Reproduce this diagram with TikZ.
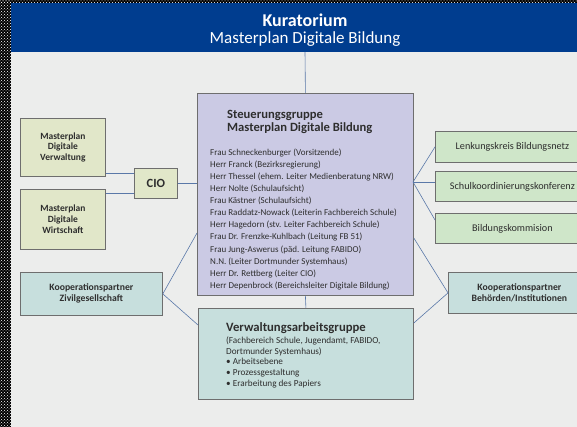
\documentclass[tikz,border=0pt]{standalone}
\usepackage{fontspec}
\setmainfont{Carlito}
\usetikzlibrary{patterns}
\definecolor{hdrblue}{HTML}{003D8F}
\definecolor{bggray}{HTML}{ECEDEC}
\definecolor{lav}{HTML}{CBCAE4}
\definecolor{ygreen}{HTML}{E1E7C9}
\definecolor{teal}{HTML}{C7DFDD}
\definecolor{lgreen}{HTML}{CFE6C9}
\definecolor{linec}{HTML}{5A78A8}
\definecolor{bordc}{HTML}{6E6E6E}
\definecolor{txt}{HTML}{2E2E2E}
\begin{document}
\begin{tikzpicture}[x=1pt,y=-1pt,
  box/.style={draw=bordc,line width=0.8pt,inner sep=0pt,anchor=north west,text=txt,align=center},
  conn/.style={draw=linec,line width=0.6pt},
  lbl/.style={inner sep=0pt,text=txt,align=left,anchor=north west}]
\useasboundingbox (0,0) rectangle (577,427);
\clip (0,0) rectangle (577,427);
% background and border strips
\fill[bggray] (0,0) rectangle (577,427);
\fill[black] (0,0) rectangle (11,427);
\fill[black] (0,0) rectangle (577,3);
\fill[pattern=crosshatch dots,pattern color=white] (0,0) rectangle (11,427);
\fill[pattern=crosshatch dots,pattern color=white] (0,0) rectangle (577,3);
% header
\fill[hdrblue] (11,3) rectangle (577,52);
\node[inner sep=0pt,text=white,font=\bfseries\fontsize{18}{20}\selectfont] (kur) at (305,20) {Kuratorium};
\node[inner sep=0pt,text=white,font=\fontsize{17}{20}\selectfont] (kur2) at (305,39.5) {Masterplan Digitale Bildung};
\coordinate (hb) at (305,52);
% Steuerungsgruppe
\node[box,fill=lav,minimum width=216pt,minimum height=202pt] (steu) at (197,93) {};
\node[lbl,font=\bfseries\fontsize{12.6}{13}\selectfont] (steut) at (227,110.5) {Steuerungsgruppe\\Masterplan Digitale Bildung};
\node[lbl,font=\fontsize{9}{12.1}\selectfont] (steul) at (210,148.5) {Frau Schneckenburger (Vorsitzende)\\
Herr Franck (Bezirksregierung)\\
Herr Thessel (ehem. Leiter Medienberatung NRW)\\
Herr Nolte (Schulaufsicht)\\
Frau Kästner (Schulaufsicht)\\
Frau Raddatz-Nowack (Leiterin Fachbereich Schule)\\
Herr Hagedorn (stv. Leiter Fachbereich Schule)\\
Frau Dr. Frenzke-Kuhlbach (Leitung FB 51)\\
Frau Jung-Aswerus (päd. Leitung FABIDO)\\
N.N. (Leiter Dortmunder Systemhaus)\\
Herr Dr. Rettberg (Leiter CIO)\\
Herr Depenbrock (Bereichsleiter Digitale Bildung)};
% left boxes
\node[box,fill=ygreen,minimum width=85pt,minimum height=58pt,font=\bfseries\fontsize{9.5}{10.8}\selectfont] (mdv) at (20,118) {Masterplan\\Digitale\\Verwaltung};
\node[box,fill=ygreen,minimum width=85pt,minimum height=60pt,font=\bfseries\fontsize{9.5}{10.8}\selectfont] (mdw) at (20,189) {Masterplan\\Digitale\\Wirtschaft};
\node[box,fill=ygreen,minimum width=43pt,minimum height=30pt,font=\bfseries\fontsize{12.5}{14}\selectfont] (cio) at (134,168) {CIO};
\node[box,fill=teal,minimum width=142pt,minimum height=43pt,font=\bfseries\fontsize{9.7}{11}\selectfont] (ziv) at (20,272) {Kooperationspartner\\Zivilgesellschaft};
% Verwaltungsarbeitsgruppe
\node[box,fill=teal,minimum width=215pt,minimum height=91pt] (vag) at (198,308) {};
\node[lbl,font=\bfseries\fontsize{12.7}{13}\selectfont] (vagt) at (226,322) {Verwaltungsarbeitsgruppe};
\node[lbl,font=\fontsize{9.2}{10.7}\selectfont] (vagl) at (226,336.5) {(Fachbereich Schule, Jugendamt, FABIDO,\\Dortmunder Systemhaus)\\
\textbullet\ Arbeitsebene\\\textbullet\ Prozessgestaltung\\\textbullet\ Erarbeitung des Papiers};
% right boxes
\node[box,fill=lgreen,minimum width=154pt,minimum height=31pt,font=\fontsize{10.2}{11}\selectfont] (lkb) at (435,131) {Lenkungskreis Bildungsnetz};
\node[box,fill=lgreen,minimum width=154pt,minimum height=30pt,font=\fontsize{10.2}{11}\selectfont] (skk) at (435,171) {Schulkoordinierungskonferenz};
\node[box,fill=lgreen,minimum width=154pt,minimum height=30pt,font=\fontsize{10.2}{11}\selectfont] (bko) at (435,213) {Bildungskommision};
\node[box,fill=teal,minimum width=142pt,minimum height=41pt,font=\bfseries\fontsize{9.7}{11}\selectfont] (kbi) at (448,272) {Kooperationspartner\\Behörden/Institutionen};
% connectors
\coordinate (sr) at (413,182);
\draw[conn] (hb) -- (steu.north);
\draw[conn] (steu.south) -- (vag.north);
\draw[conn] (mdv.east |- 0,173) -- (cio.west |- 0,173);
\draw[conn] (mdw.east |- 0,193) -- (cio.west |- 0,193);
\draw[conn] (cio.east) -- (steu.west |- cio.east);
\draw[conn] (ziv.east) -- (steu.west |- 0,233);
\draw[conn] (ziv.east) -- (vag.west |- 0,325);
\draw[conn] (sr) -- (lkb.west);
\draw[conn] (sr) -- (skk.west |- sr);
\draw[conn] (sr) -- (bko.west |- 0,220);
\draw[conn] (steu.east |- 0,238) -- (kbi.west);
\draw[conn] (vag.east |- 0,323) -- (kbi.west);
\end{tikzpicture}
\end{document}
